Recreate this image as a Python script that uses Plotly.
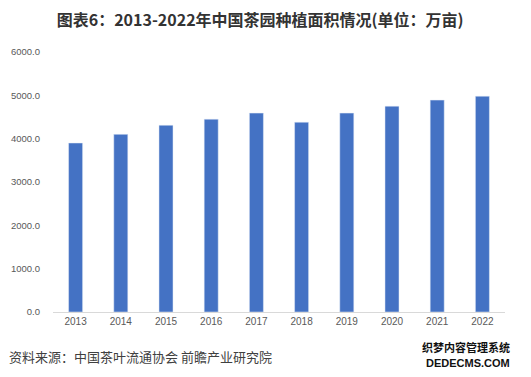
import plotly.graph_objects as go

years = ["2013", "2014", "2015", "2016", "2017", "2018", "2019", "2020", "2021", "2022"]
area = [3900, 4100, 4310, 4450, 4590, 4380, 4590, 4750, 4890, 4980]
y_ticks = [0, 1000, 2000, 3000, 4000, 5000, 6000]
y_tick_labels = [f"{v:.1f}" for v in y_ticks]

title_text = "图表6：2013-2022年中国茶园种植面积情况(单位：万亩)"
source_text = "资料来源：中国茶叶流通协会 前瞻产业研究院"
stamp_line1 = "织梦内容管理系统"
stamp_line2 = "DEDECMS.COM"

fig = go.Figure(go.Bar(x=years, y=area, marker_color="#4472C4", width=0.31))

fig.update_layout(
    width=531, height=377,
    margin=dict(l=53, r=26, t=52, b=65),
    paper_bgcolor="white", plot_bgcolor="white",
    showlegend=False,
    font=dict(family="Liberation Sans, Noto Sans CJK SC", color="#595959", size=10),
    title=dict(text="<b>" + title_text + "</b>", x=0.49, xanchor="center", y=1 - 20/377, yanchor="middle",
               font=dict(family="Noto Sans CJK SC", size=16, color="#333333")),
    xaxis=dict(type="category", showgrid=False, showline=True, linecolor="#D9D9D9", linewidth=1,
               ticks="", tickfont=dict(size=10, color="#595959")),
    yaxis=dict(range=[0, 6000], tickvals=y_ticks, ticktext=y_tick_labels, showgrid=False,
               zeroline=False, showline=False, ticks="", ticklabelstandoff=12,
               tickfont=dict(size=9.5, color="#595959")),
    annotations=[
        dict(text=source_text, xref="paper", yref="paper", x=-46/452, y=-44/260, xanchor="left",
             yanchor="middle", showarrow=False,
             font=dict(family="Noto Sans CJK SC", size=13, color="#404040")),
        dict(text="<b>" + stamp_line1 + "</b>", xref="paper", yref="paper",
             x=(512 - 53) / 452, y=-(347 - 312) / 260, xanchor="right", yanchor="middle", showarrow=False,
             font=dict(family="Noto Sans CJK SC", size=11, color="#111111")),
        dict(text="<b>" + stamp_line2 + "</b>", xref="paper", yref="paper",
             x=(512 - 53) / 452, y=-(363 - 312) / 260, xanchor="right", yanchor="middle", showarrow=False,
             font=dict(family="Liberation Sans", size=11, color="#111111")),
    ],
)

fig.write_html("out.html", config={"displayModeBar": False},
               post_script="document.body.style.margin='0';")
